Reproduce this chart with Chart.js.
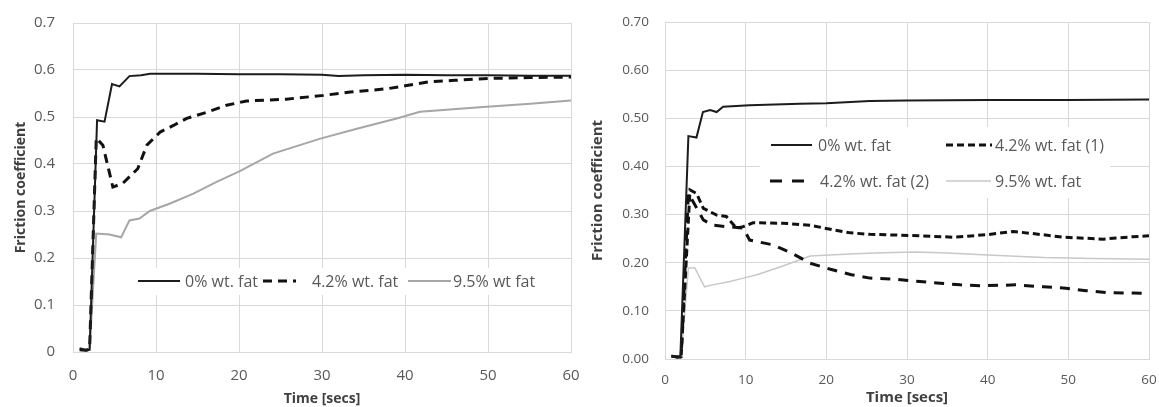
<!DOCTYPE html>
<html>
<head>
<meta charset="utf-8">
<script src="https://cdn.jsdelivr.net/npm/chart.js@4"></script>
<style>
  body { margin: 0; background: #fff; }
  #wrapLeft { position: absolute; left: 0; top: 0; width: 580px; height: 407px; }
  #wrapRight { position: absolute; left: 580px; top: 0; width: 579px; height: 407px; }
</style>
</head>
<body>
<div id="wrapLeft"><canvas id="leftChart" width="580" height="407"></canvas></div>
<div id="wrapRight"><canvas id="rightChart" width="579" height="407"></canvas></div>
<script>
// ---- left panel data (time in secs, friction coefficient) ----
const leftTime0 = [0.8, 1.2, 1.6, 2.0, 2.9, 3.8, 4.7, 5.6, 6.8, 8.2, 9.3, 15, 20, 25, 30, 32, 35, 40, 45, 50, 55, 60];
const leftFat0 = [0.008, 0.006, 0.003, 0.005, 0.493, 0.49, 0.57, 0.565, 0.587, 0.589, 0.592, 0.592, 0.591, 0.591, 0.59, 0.587, 0.589, 0.59, 0.589, 0.589, 0.588, 0.588];

const leftTime42 = [0.8, 1.5, 2.0, 2.8, 3.6, 4.8, 6.0, 7.8, 8.9, 10.5, 12.1, 13.7, 16.1, 18.5, 20.9, 25.7, 30.2, 33.4, 37.8, 40.2, 43, 46, 50, 55, 60];
const leftFat42 = [0.005, 0.004, 0.006, 0.455, 0.44, 0.351, 0.359, 0.39, 0.44, 0.468, 0.482, 0.497, 0.51, 0.525, 0.534, 0.538, 0.546, 0.553, 0.56, 0.567, 0.575, 0.578, 0.582, 0.584, 0.585];

const leftTime95 = [0.8, 1.5, 2.0, 2.8, 4.4, 5.8, 6.8, 8.0, 9.25, 11.7, 14.5, 17.3, 20.1, 24.1, 29.8, 34.2, 39, 41.8, 43.8, 49, 55.1, 60];
const leftFat95 = [0.005, 0.004, 0.005, 0.252, 0.25, 0.244, 0.28, 0.284, 0.30, 0.316, 0.337, 0.362, 0.385, 0.422, 0.454, 0.475, 0.497, 0.511, 0.514, 0.521, 0.528, 0.535];

// ---- right panel data ----
const rightTime0 = [0.8, 1.3, 1.9, 2.9, 3.9, 4.7, 5.6, 6.4, 7.2, 10.5, 16.7, 20, 25.4, 30, 40, 50, 60];
const rightFat0 = [0.007, 0.004, 0.003, 0.463, 0.46, 0.513, 0.517, 0.513, 0.524, 0.527, 0.53, 0.531, 0.536, 0.537, 0.538, 0.538, 0.539];

const rightTime42a = [0.8, 1.5, 2.0, 3.1, 3.9, 4.75, 6.4, 7.6, 8.85, 9.7, 10.9, 14.6, 18, 20.9, 23, 25.4, 31.6, 35.7, 39.8, 43.2, 46.9, 49.4, 54.3, 58, 60];
const rightFat42a = [0.006, 0.004, 0.005, 0.351, 0.344, 0.313, 0.299, 0.296, 0.272, 0.275, 0.283, 0.282, 0.278, 0.268, 0.262, 0.259, 0.256, 0.253, 0.258, 0.265, 0.258, 0.253, 0.249, 0.254, 0.256];

const rightTime42b = [0.8, 1.5, 2.0, 2.9, 4.75, 5.9, 7.6, 9.7, 10.5, 13.4, 15.7, 18, 20.4, 23.1, 25.4, 28.3, 31.6, 33.7, 36.6, 39.1, 43.5, 46.9, 49.7, 52.2, 54.7, 58, 60];
const rightFat42b = [0.006, 0.004, 0.005, 0.344, 0.289, 0.278, 0.275, 0.272, 0.247, 0.237, 0.22, 0.199, 0.187, 0.175, 0.168, 0.166, 0.161, 0.158, 0.154, 0.152, 0.154, 0.15, 0.147, 0.142, 0.138, 0.137, 0.136];

const rightTime95 = [0.8, 1.5, 2.0, 2.9, 3.7, 4.9, 5.9, 8.05, 9.7, 11.4, 13.9, 16.4, 18, 20.4, 22.9, 26, 31, 35, 40, 47, 53, 60];
const rightFat95 = [0.005, 0.004, 0.005, 0.189, 0.189, 0.15, 0.154, 0.161, 0.168, 0.175, 0.189, 0.204, 0.214, 0.216, 0.218, 0.22, 0.222, 0.22, 0.216, 0.211, 0.209, 0.207];

const xTicks = [0, 10, 20, 30, 40, 50, 60];
const yTicks = [0, 0.1, 0.2, 0.3, 0.4, 0.5, 0.6, 0.7];

const toPoints = (ts, vs) => ts.map((t, i) => ({ x: t, y: vs[i] }));

const gridColor = "#d9d9d9";
const tickColor = "#595959";
const titleColor = "#404040";

// draws the legend inside the plot, on a white box that hides the grid
const boxLegend = {
  id: "boxLegend",
  beforeDatasetsDraw(chart, args, opts) {
    const ctx = chart.ctx;
    ctx.save();
    ctx.fillStyle = "#fff";
    ctx.fillRect(opts.box[0], opts.box[1], opts.box[2], opts.box[3]);
    opts.items.forEach((it, i) => {
      const ds = chart.data.datasets[i];
      ctx.strokeStyle = ds.borderColor;
      ctx.lineWidth = ds.borderWidth;
      ctx.setLineDash(it.dash || ds.borderDash || []);
      ctx.beginPath();
      ctx.moveTo(it.x, it.y);
      ctx.lineTo(it.x + it.w, it.y);
      ctx.stroke();
      ctx.setLineDash([]);
      ctx.fillStyle = tickColor;
      ctx.font = opts.font;
      ctx.textBaseline = "middle";
      ctx.fillText(ds.label, it.tx, it.y + 1);
    });
    ctx.restore();
  },
};

function makeOptions(cfg) {
  return {
    responsive: false,
    devicePixelRatio: 1,
    animation: false,
    layout: { padding: cfg.padding },
    plugins: {
      legend: { display: false },
      tooltip: { enabled: false },
      boxLegend: cfg.legend,
    },
    elements: { point: { radius: 0 }, line: { tension: 0 } },
    scales: {
      x: {
        type: "linear",
        min: 0,
        max: 60,
        afterBuildTicks: (s) => { s.ticks = xTicks.map((v) => ({ value: v })); },
        afterFit: (s) => { s.height = cfg.xHeight; s.paddingLeft = 0; s.paddingRight = 0; },
        grid: { color: gridColor, drawTicks: false },
        border: { color: gridColor },
        ticks: { color: tickColor, padding: cfg.xPad, font: { family: "Open Sans", size: cfg.tickSize } },
        title: {
          display: true,
          text: "Time [secs]",
          color: titleColor,
          padding: { top: 0, bottom: 0 },
          font: { family: "Open Sans", size: cfg.titleSize, weight: "bold" },
        },
      },
      y: {
        min: 0,
        max: 0.7,
        afterBuildTicks: (s) => { s.ticks = yTicks.map((v) => ({ value: v })); },
        afterFit: (s) => { s.width = cfg.yWidth; s.paddingTop = 0; s.paddingBottom = 0; },
        grid: { color: gridColor, drawTicks: false },
        border: { color: gridColor },
        ticks: { color: tickColor, padding: cfg.yPad, font: { family: "Open Sans", size: cfg.tickSize }, callback: cfg.yFormat },
        title: {
          display: true,
          text: "Friction coefficient",
          color: titleColor,
          padding: { top: cfg.yTitlePad, bottom: 0 },
          font: { family: "Open Sans", size: cfg.titleSize, weight: "bold" },
        },
      },
    },
  };
}

new Chart(document.getElementById("leftChart"), {
  type: "line",
  data: {
    datasets: [
      { label: "0% wt. fat", data: toPoints(leftTime0, leftFat0), borderColor: "#1c1c1c", borderWidth: 2 },
      { label: "4.2% wt. fat", data: toPoints(leftTime42, leftFat42), borderColor: "#111", borderWidth: 3, borderDash: [9, 6] },
      { label: "9.5% wt fat", data: toPoints(leftTime95, leftFat95), borderColor: "#a6a6a6", borderWidth: 2 },
    ],
  },
  options: makeOptions({
    padding: { top: 23, right: 9, left: 0, bottom: 0 },
    xHeight: 55, yWidth: 73, xPad: 15, yPad: 18, yTitlePad: 13,
    tickSize: 15, titleSize: 14,
    yFormat: (v) => (v === 0 ? "0" : v.toFixed(1)),
    legend: {
      font: "16px 'Open Sans'",
      box: [133, 268, 410, 27],
      items: [
        { x: 138, w: 42, tx: 185, y: 281 },
        { x: 263, w: 33, tx: 312, y: 281 },
        { x: 408, w: 43, tx: 453, y: 281 },
      ],
    },
  }),
  plugins: [boxLegend],
});

new Chart(document.getElementById("rightChart"), {
  type: "line",
  data: {
    datasets: [
      { label: "0% wt. fat", data: toPoints(rightTime0, rightFat0), borderColor: "#1c1c1c", borderWidth: 2 },
      { label: "4.2% wt. fat (1)", data: toPoints(rightTime42a, rightFat42a), borderColor: "#111", borderWidth: 3, borderDash: [7, 4] },
      { label: "4.2% wt. fat (2)", data: toPoints(rightTime42b, rightFat42b), borderColor: "#111", borderWidth: 3, borderDash: [10, 8] },
      { label: "9.5% wt. fat", data: toPoints(rightTime95, rightFat95), borderColor: "#c8c8c8", borderWidth: 1.5 },
    ],
  },
  options: makeOptions({
    padding: { top: 22, right: 10, left: 0, bottom: 0 },
    xHeight: 48, yWidth: 85, xPad: 13, yPad: 16, yTitlePad: 9,
    tickSize: 13.5, titleSize: 15,
    yFormat: (v) => v.toFixed(2),
    legend: {
      font: "16px 'Open Sans'",
      box: [180, 127, 350, 71],
      items: [
        { x: 191, w: 41, tx: 238, y: 145 },
        { x: 366, w: 46, tx: 415, y: 145 },
        { x: 190, w: 34, tx: 240, y: 181, dash: [12, 10] },
        { x: 366, w: 45, tx: 415, y: 181 },
      ],
    },
  }),
  plugins: [boxLegend],
});
</script>
</body>
</html>
